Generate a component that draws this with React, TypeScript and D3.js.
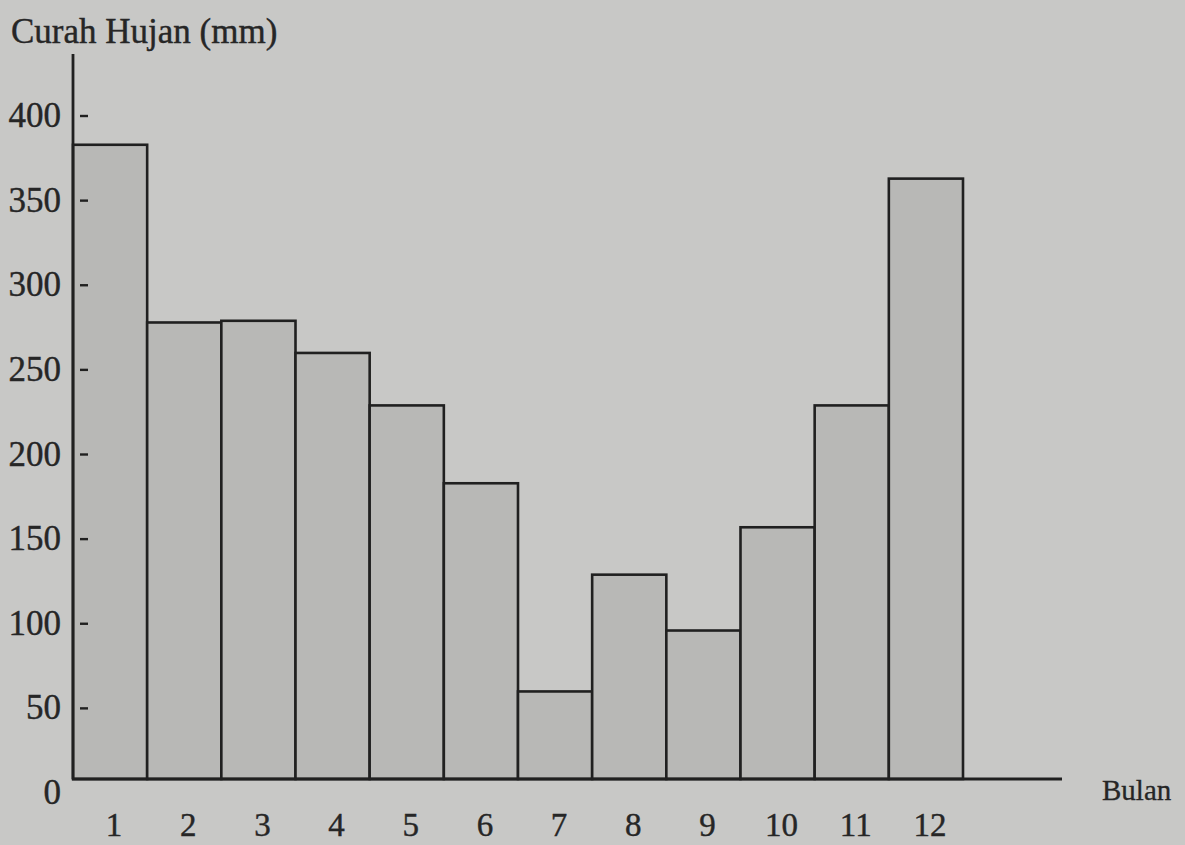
import React, { useEffect, useRef } from "react";
import * as d3 from "d3";

const months: string[] = ["1", "2", "3", "4", "5", "6", "7", "8", "9", "10", "11", "12"];
const rainfall: number[] = [383, 278, 279, 260, 229, 183, 60, 129, 96, 157, 229, 363];
const yTicks: number[] = [0, 50, 100, 150, 200, 250, 300, 350, 400];
const yTitle = "Curah Hujan (mm)";
const xTitle = "Bulan";

const W = 1185;
const H = 845;

export default function App() {
  const ref = useRef<SVGSVGElement | null>(null);

  useEffect(() => {
    const svg = d3.select(ref.current);
    svg.selectAll("*").remove();

    const axisX = 73;
    const x = d3.scaleBand<string>().domain(months).range([axisX, 963]).padding(0);
    const y = d3.scaleLinear().domain([0, 400]).range([793, 116]);
    const baseY = y(0) - 14; // drawn axis line sits slightly above the "0" label

    const ink = "#202020";
    const textInk = "#262626";
    const font = "'Liberation Serif', 'Times New Roman', serif";

    svg.append("rect").attr("width", W).attr("height", H).attr("fill", "#c8c8c6");

    // bars
    svg
      .append("g")
      .selectAll("rect")
      .data(rainfall)
      .join("rect")
      .attr("x", (_, i) => x(months[i])!)
      .attr("y", (d) => y(d))
      .attr("width", x.bandwidth())
      .attr("height", (d) => baseY - y(d))
      .attr("fill", "#b8b8b6")
      .attr("stroke", ink)
      .attr("stroke-width", 2.6);

    // y axis line
    svg
      .append("line")
      .attr("x1", axisX)
      .attr("x2", axisX)
      .attr("y1", 54)
      .attr("y2", baseY)
      .attr("stroke", ink)
      .attr("stroke-width", 2.8);

    // x axis line
    svg
      .append("line")
      .attr("x1", axisX - 1)
      .attr("x2", 1062)
      .attr("y1", baseY)
      .attr("y2", baseY)
      .attr("stroke", ink)
      .attr("stroke-width", 3);

    // y ticks (small dashes inside the axis) and labels
    const tg = svg.append("g");
    yTicks.forEach((t) => {
      if (t > 0) {
        tg.append("line")
          .attr("x1", axisX + 7)
          .attr("x2", axisX + 15)
          .attr("y1", y(t))
          .attr("y2", y(t))
          .attr("stroke", ink)
          .attr("stroke-width", 2.4);
      }
      tg.append("text")
        .attr("x", 61)
        .attr("y", y(t) + 11)
        .attr("text-anchor", "end")
        .attr("font-family", font)
        .attr("font-size", 35)
        .attr("fill", textInk)
        .attr("stroke", textInk)
        .attr("stroke-width", 0.4)
        .text(String(t));
    });

    // month labels
    svg
      .append("g")
      .selectAll("text")
      .data(months)
      .join("text")
      .attr("x", (d) => x(d)! + x.bandwidth() / 2 + 4)
      .attr("y", 836)
      .attr("text-anchor", "middle")
      .attr("font-family", font)
      .attr("font-size", 33)
      .attr("fill", textInk)
      .attr("stroke", textInk)
      .attr("stroke-width", 0.4)
      .text((d) => d);

    // titles
    svg
      .append("text")
      .attr("x", 11)
      .attr("y", 43)
      .attr("font-family", font)
      .attr("font-size", 35)
      .attr("fill", textInk)
      .attr("stroke", textInk)
      .attr("stroke-width", 0.4)
      .text(yTitle);

    svg
      .append("text")
      .attr("x", 1102)
      .attr("y", 800)
      .attr("font-family", font)
      .attr("font-size", 29)
      .attr("fill", textInk)
      .attr("stroke", textInk)
      .attr("stroke-width", 0.3)
      .text(xTitle);
  }, []);

  return (
    <svg
      ref={ref}
      width={W}
      height={H}
      style={{ position: "fixed", left: 0, top: 0, display: "block" }}
    />
  );
}
